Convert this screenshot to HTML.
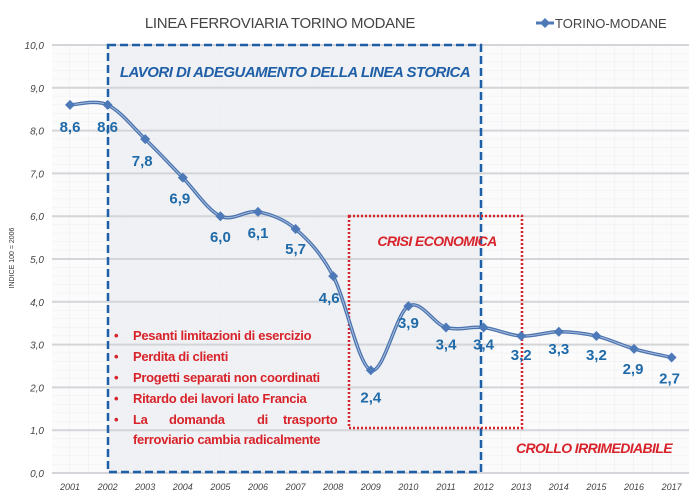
<!DOCTYPE html><html><head><meta charset="utf-8"><style>body{margin:0;background:#fff}svg{display:block;font-family:"Liberation Sans",sans-serif}</style></head><body>
<svg id="s" width="693" height="498" xmlns="http://www.w3.org/2000/svg">
<defs>
<pattern id="mg" width="18.8" height="8.56" patternUnits="userSpaceOnUse" x="51" y="45"><path d="M18.8 0V8.56M0 8.56H18.8" stroke="#eceef2" stroke-width="1" fill="none"/></pattern>
</defs>
<rect x="52" y="45" width="637" height="428" fill="#fbfbfc"/>
<rect x="108" y="45" width="373" height="427" fill="#eff1f4"/>
<rect x="52" y="45" width="637" height="428" fill="url(#mg)"/>
<g id="grid" stroke="#d3d5d8" stroke-width="2"></g>
<g id="yl" font-size="10" font-style="italic" fill="#444" text-anchor="end"></g>
<g id="xl" font-size="9" font-style="italic" fill="#444" text-anchor="middle"></g>
<text x="14" y="258" font-size="7" fill="#333" transform="rotate(-90 14 258)" text-anchor="middle">INDICE 100 = 2006</text>
<text x="280" y="28" font-size="15" fill="#444" text-anchor="middle" letter-spacing="-0.3">LINEA FERROVIARIA TORINO MODANE</text>
<line x1="536" y1="23" x2="554" y2="23" stroke="#4d79b8" stroke-width="3"/><path d="M545 18l5 5-5 5-5-5z" fill="#4d79b8"/>
<text x="555" y="28" font-size="13" fill="#444">TORINO-MODANE</text>
<rect x="108" y="45" width="373" height="427" fill="none" stroke="#1f5fa8" stroke-width="2.5" stroke-dasharray="8,4"/>
<rect x="349" y="216" width="173" height="212" fill="none" stroke="#d8232a" stroke-width="2.5" stroke-dasharray="2,2"/>
<text x="295" y="77" font-size="15" font-weight="bold" font-style="italic" fill="#1f5fa8" text-anchor="middle" letter-spacing="-0.5">LAVORI DI ADEGUAMENTO DELLA LINEA STORICA</text>
<text x="437" y="246" font-size="14" font-weight="bold" font-style="italic" fill="#d8232a" text-anchor="middle" letter-spacing="-0.6">CRISI ECONOMICA</text>
<text x="594" y="453" font-size="14" font-weight="bold" font-style="italic" fill="#d8232a" text-anchor="middle" letter-spacing="-0.6">CROLLO IRRIMEDIABILE</text>
<g font-size="13" font-weight="bold" fill="#d8232a" letter-spacing="-0.3">
<text x="114" y="340">•</text><text x="133" y="340">Pesanti limitazioni di esercizio</text>
<text x="114" y="361">•</text><text x="133" y="361">Perdita di clienti</text>
<text x="114" y="382">•</text><text x="133" y="382">Progetti separati non coordinati</text>
<text x="114" y="403">•</text><text x="133" y="403">Ritardo dei lavori  lato Francia</text>
<text x="114" y="424">•</text><text x="133" y="424">La</text><text x="169" y="424">domanda</text><text x="257" y="424">di</text><text x="283" y="424">trasporto</text>
<text x="133" y="444">ferroviario cambia radicalmente</text>
</g>
<path id="ln" fill="none" stroke="#4a73ad" stroke-width="3.5" stroke-linejoin="round"/>
<path id="ln2" fill="none" stroke="#a9bde0" stroke-width="1" />
<g id="mk" fill="#4d79b8"></g>
<g id="lb" font-size="15" font-weight="bold" fill="#1f6aa8" text-anchor="middle"></g>
</svg>
<script>
var ns="http://www.w3.org/2000/svg";
function el(p,t,a,tx){var e=document.createElementNS(ns,t);for(var k in a)e.setAttribute(k,a[k]);if(tx!=null)e.textContent=tx;document.getElementById(p).appendChild(e);}
function Y(v){return 473-v*42.8}
for(var i=0;i<=10;i++){el('grid','line',{x1:52,x2:689,y1:Y(i),y2:Y(i)});el('yl','text',{x:44,y:Y(i)+4},i+',0');}
for(var i=0;i<17;i++)el('xl','text',{x:70+37.6*i,y:490},2001+i);
var v=[8.6,8.6,7.8,6.9,6.0,6.1,5.7,4.6,2.4,3.9,3.4,3.4,3.2,3.3,3.2,2.9,2.7];
var P=v.map(function(a,i){return[70+37.6*i,Y(a)]});
var d='M'+P[0];
for(var i=0;i<P.length-1;i++){var p0=P[Math.max(0,i-1)],p1=P[i],p2=P[i+1],p3=P[Math.min(P.length-1,i+2)];var t=0.5/3*2;
d+=' C'+(p1[0]+(p2[0]-p0[0])*t/2)+','+(p1[1]+(p2[1]-p0[1])*t/2)+' '+(p2[0]-(p3[0]-p1[0])*t/2)+','+(p2[1]-(p3[1]-p1[1])*t/2)+' '+p2[0]+','+p2[1];}
document.getElementById('ln').setAttribute('d',d);document.getElementById('ln2').setAttribute('d',d);
var lo=[[0,27],[0,27],[-3,27],[-3,26],[0,26],[0,26],[0,25],[-4,27],[0,32],[0,22],[0,22],[0,22],[0,24],[0,22],[0,24],[-1,25],[-2,26]];
for(var i=0;i<P.length;i++){var x=P[i][0],y=P[i][1];el('mk','path',{d:'M'+x+' '+(y-5)+'l5 5-5 5-5-5z'});
el('lb','text',{x:x+lo[i][0],y:y+lo[i][1]},String(v[i]).replace('.',',').replace(/^(\d)$/,'$1,0'));}
</script>
</body></html>
